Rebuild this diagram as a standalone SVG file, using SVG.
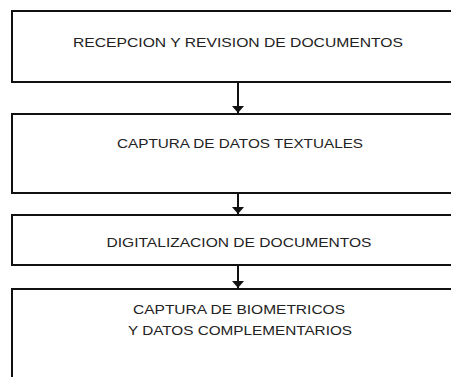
<svg xmlns="http://www.w3.org/2000/svg" width="451" height="377" viewBox="0 0 451 377">
<defs>
<marker id="arr" viewBox="0 0 7 12" refX="7" refY="6" markerWidth="7" markerHeight="12" markerUnits="userSpaceOnUse" orient="auto">
<path d="M0,0 L7,6 L0,12 z" fill="#111"/>
</marker>
<style>
.box{fill:#fff;stroke:#111;stroke-width:2}
.lbl{font-family:"Liberation Sans",Arial,sans-serif;font-size:13.5px;fill:#222;text-anchor:middle}
.conn{stroke:#111;stroke-width:2;fill:none}
</style>
</defs>
<rect width="451" height="377" fill="#fff"/>
<g id="n1">
<rect class="box" x="12" y="11" width="460" height="71"/>
<text class="lbl" x="238" y="47" textLength="330" lengthAdjust="spacingAndGlyphs">RECEPCION Y REVISION DE DOCUMENTOS</text>
</g>
<g id="n2">
<rect class="box" x="12" y="114" width="460" height="79"/>
<text class="lbl" x="240" y="148" textLength="246" lengthAdjust="spacingAndGlyphs">CAPTURA DE DATOS TEXTUALES</text>
</g>
<g id="n3">
<rect class="box" x="12" y="215" width="460" height="50"/>
<text class="lbl" x="239" y="247" textLength="265" lengthAdjust="spacingAndGlyphs">DIGITALIZACION DE DOCUMENTOS</text>
</g>
<g id="n4">
<rect class="box" x="12" y="289" width="460" height="120"/>
<text class="lbl" x="239" y="314" textLength="212" lengthAdjust="spacingAndGlyphs">CAPTURA DE BIOMETRICOS</text>
<text class="lbl" x="240" y="335" textLength="224" lengthAdjust="spacingAndGlyphs">Y DATOS COMPLEMENTARIOS</text>
</g>
<g id="connectors">
<line class="conn" x1="238" y1="82" x2="238" y2="113" marker-end="url(#arr)"/>
<line class="conn" x1="238" y1="193" x2="238" y2="214" marker-end="url(#arr)"/>
<line class="conn" x1="238" y1="265" x2="238" y2="288" marker-end="url(#arr)"/>
</g>
</svg>
